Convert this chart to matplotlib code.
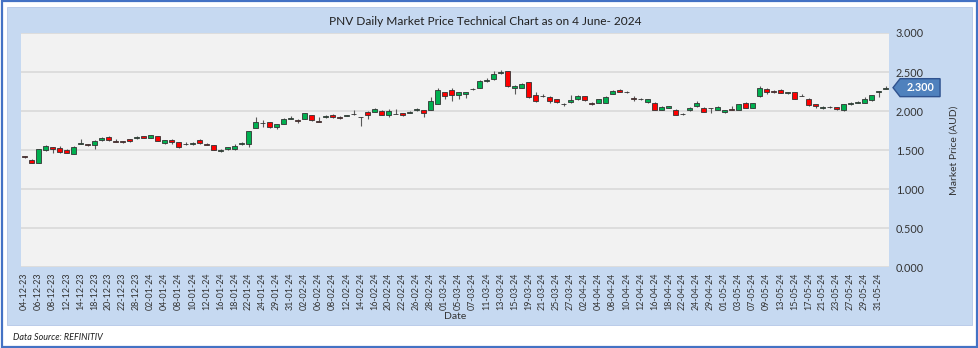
import matplotlib
matplotlib.use("Agg")
import matplotlib.pyplot as plt
from matplotlib.patches import Rectangle, Polygon
from matplotlib import transforms

# trading days (dd-mm-yy)
dates = [
    "04-12-23", "05-12-23", "06-12-23", "07-12-23", "08-12-23", "11-12-23", "12-12-23", "13-12-23",
    "14-12-23", "15-12-23", "18-12-23", "19-12-23", "20-12-23", "21-12-23", "22-12-23", "27-12-23",
    "28-12-23", "29-12-23", "02-01-24", "03-01-24", "04-01-24", "05-01-24", "08-01-24", "09-01-24",
    "10-01-24", "11-01-24", "12-01-24", "15-01-24", "16-01-24", "17-01-24", "18-01-24", "19-01-24",
    "22-01-24", "23-01-24", "24-01-24", "25-01-24", "29-01-24", "30-01-24", "31-01-24", "01-02-24",
    "02-02-24", "05-02-24", "06-02-24", "07-02-24", "08-02-24", "09-02-24", "12-02-24", "13-02-24",
    "14-02-24", "15-02-24", "16-02-24", "19-02-24", "20-02-24", "21-02-24", "22-02-24", "23-02-24",
    "26-02-24", "27-02-24", "28-02-24", "29-02-24", "01-03-24", "04-03-24", "05-03-24", "06-03-24",
    "07-03-24", "08-03-24", "11-03-24", "12-03-24", "13-03-24", "14-03-24", "15-03-24", "18-03-24",
    "19-03-24", "20-03-24", "21-03-24", "22-03-24", "25-03-24", "26-03-24", "27-03-24", "28-03-24",
    "02-04-24", "03-04-24", "04-04-24", "05-04-24", "08-04-24", "09-04-24", "10-04-24", "11-04-24",
    "12-04-24", "15-04-24", "16-04-24", "17-04-24", "18-04-24", "19-04-24", "22-04-24", "23-04-24",
    "24-04-24", "26-04-24", "29-04-24", "30-04-24", "01-05-24", "02-05-24", "03-05-24", "06-05-24",
    "07-05-24", "08-05-24", "09-05-24", "10-05-24", "13-05-24", "14-05-24", "15-05-24", "16-05-24",
    "17-05-24", "20-05-24", "21-05-24", "22-05-24", "23-05-24", "24-05-24", "27-05-24", "28-05-24",
    "29-05-24", "30-05-24", "31-05-24", "03-06-24",
]

open_ = [
    1.420, 1.380, 1.340, 1.500, 1.535, 1.530, 1.500, 1.455, 1.580, 1.580, 1.560, 1.630, 1.670, 1.615,
    1.615, 1.640, 1.650, 1.675, 1.655, 1.680, 1.595, 1.635, 1.605, 1.575, 1.575, 1.625, 1.575, 1.560,
    1.490, 1.510, 1.510, 1.575, 1.585, 1.785, 1.845, 1.860, 1.790, 1.835, 1.905, 1.880, 1.900, 1.945,
    1.870, 1.920, 1.945, 1.925, 1.940, 1.960, 1.925, 1.990, 1.990, 2.000, 1.955, 1.965, 1.970, 1.980,
    2.010, 2.010, 2.020, 2.090, 2.245, 2.270, 2.210, 2.220, 2.280, 2.295, 2.390, 2.410, 2.490, 2.510,
    2.290, 2.300, 2.370, 2.210, 2.190, 2.180, 2.150, 2.097, 2.115, 2.150, 2.190, 2.110, 2.110, 2.110,
    2.220, 2.265, 2.250, 2.165, 2.150, 2.120, 2.110, 2.020, 2.045, 2.020, 1.965, 2.010, 2.060, 2.045,
    2.040, 2.020, 1.985, 2.030, 2.020, 2.105, 2.045, 2.190, 2.280, 2.260, 2.265, 2.230, 2.240, 2.195,
    2.160, 2.090, 2.045, 2.050, 2.050, 2.010, 2.085, 2.110, 2.110, 2.140, 2.250, 2.285,
]
high = [
    1.430, 1.390, 1.520, 1.570, 1.545, 1.550, 1.510, 1.550, 1.640, 1.585, 1.630, 1.670, 1.680, 1.640,
    1.620, 1.645, 1.680, 1.685, 1.700, 1.685, 1.630, 1.645, 1.610, 1.610, 1.600, 1.640, 1.590, 1.565,
    1.510, 1.545, 1.580, 1.600, 1.745, 1.920, 1.885, 1.865, 1.840, 1.910, 1.940, 1.900, 1.980, 1.955,
    1.930, 1.945, 1.960, 1.940, 1.955, 2.020, 1.930, 2.000, 2.040, 2.010, 2.025, 2.025, 1.975, 1.995,
    2.045, 2.015, 2.175, 2.290, 2.250, 2.290, 2.245, 2.250, 2.290, 2.400, 2.420, 2.510, 2.520, 2.515,
    2.330, 2.360, 2.375, 2.240, 2.225, 2.190, 2.160, 2.100, 2.210, 2.200, 2.195, 2.115, 2.160, 2.190,
    2.265, 2.280, 2.255, 2.190, 2.165, 2.155, 2.115, 2.060, 2.070, 2.030, 1.975, 2.050, 2.125, 2.050,
    2.045, 2.060, 2.020, 2.060, 2.095, 2.120, 2.110, 2.320, 2.290, 2.275, 2.280, 2.245, 2.245, 2.225,
    2.165, 2.095, 2.060, 2.060, 2.055, 2.090, 2.115, 2.135, 2.175, 2.205, 2.255, 2.315,
]
low = [
    1.400, 1.330, 1.340, 1.490, 1.460, 1.460, 1.460, 1.450, 1.575, 1.550, 1.520, 1.620, 1.620, 1.605,
    1.590, 1.600, 1.645, 1.650, 1.650, 1.615, 1.575, 1.575, 1.530, 1.570, 1.570, 1.585, 1.570, 1.500,
    1.480, 1.505, 1.505, 1.570, 1.545, 1.780, 1.800, 1.780, 1.770, 1.830, 1.900, 1.850, 1.895, 1.875,
    1.860, 1.915, 1.910, 1.900, 1.935, 1.955, 1.810, 1.900, 1.985, 1.950, 1.920, 1.960, 1.940, 1.975,
    2.005, 1.925, 2.015, 2.085, 2.150, 2.135, 2.160, 2.170, 2.275, 2.290, 2.370, 2.400, 2.470, 2.310,
    2.225, 2.295, 2.170, 2.120, 2.175, 2.110, 2.100, 2.070, 2.110, 2.145, 2.135, 2.080, 2.105, 2.105,
    2.215, 2.240, 2.235, 2.130, 2.140, 2.110, 2.010, 2.010, 2.040, 1.950, 1.945, 2.005, 2.055, 1.985,
    1.970, 2.015, 1.980, 2.010, 2.015, 2.040, 2.040, 2.185, 2.220, 2.230, 2.230, 2.225, 2.150, 2.190,
    2.070, 2.040, 2.030, 2.040, 2.020, 2.005, 2.080, 2.100, 2.105, 2.135, 2.180, 2.280,
]
close = [
    1.410, 1.340, 1.510, 1.550, 1.510, 1.480, 1.465, 1.545, 1.590, 1.560, 1.620, 1.655, 1.625, 1.610,
    1.600, 1.615, 1.670, 1.655, 1.690, 1.620, 1.625, 1.600, 1.535, 1.580, 1.595, 1.590, 1.570, 1.505,
    1.500, 1.540, 1.550, 1.590, 1.740, 1.860, 1.850, 1.790, 1.835, 1.905, 1.910, 1.875, 1.975, 1.880,
    1.865, 1.935, 1.920, 1.910, 1.945, 1.962, 1.920, 1.955, 2.025, 1.955, 1.995, 1.967, 1.950, 1.990,
    2.025, 1.980, 2.130, 2.275, 2.195, 2.205, 2.240, 2.245, 2.285, 2.390, 2.395, 2.480, 2.495, 2.315,
    2.325, 2.350, 2.180, 2.130, 2.195, 2.125, 2.115, 2.093, 2.140, 2.190, 2.140, 2.090, 2.150, 2.185,
    2.255, 2.245, 2.245, 2.160, 2.152, 2.150, 2.015, 2.055, 2.065, 1.950, 1.963, 2.045, 2.100, 1.990,
    2.038, 2.050, 2.015, 2.015, 2.090, 2.045, 2.105, 2.290, 2.250, 2.245, 2.235, 2.240, 2.155, 2.193,
    2.075, 2.065, 2.047, 2.052, 2.030, 2.085, 2.110, 2.113, 2.150, 2.200, 2.250, 2.300,
]

last_price = 2.300

fig = plt.figure(figsize=(9.79, 3.48), dpi=100)
plt.rcParams["font.family"] = ["Lato", "DejaVu Sans"]

# frame and light blue panel
fig.patches.append(Rectangle((0.002, 0.003), 0.996, 0.994, transform=fig.transFigure,
                             facecolor="white", edgecolor="#4472C4", linewidth=1.6, zorder=-3))
fig.patches.append(Rectangle((0.00715, 0.066), 0.9857, 0.914, transform=fig.transFigure,
                             facecolor="#C6D9F1", edgecolor="#B4C7E7", linewidth=0.6, zorder=-2))

ax = fig.add_axes([0.0215, 0.2319, 0.8866, 0.6733])
ax.set_facecolor("#F2F2F2")

x = list(range(len(dates)))
up_color = "#00B050"
down_color = "#FF0000"

bottoms = [min(o, c) for o, c in zip(open_, close)]
heights = [max(abs(c - o), 0.003) for o, c in zip(open_, close)]
colors = [up_color if c >= o else down_color for o, c in zip(open_, close)]

ax.vlines(x, low, high, color="#595959", linewidth=0.8, zorder=2)
ax.bar(x, heights, bottom=bottoms, width=0.6, color=colors,
       edgecolor="#333333", linewidth=0.6, zorder=3)

ax.set_xlim(-0.5, len(dates) - 0.5)
ax.set_ylim(0, 3)
yticks = [0, 0.5, 1.0, 1.5, 2.0, 2.5, 3.0]
ax.set_yticks(yticks)
ax.set_yticklabels([f"{v:.3f}" for v in yticks])
ax.yaxis.tick_right()
ax.tick_params(axis="y", length=0, pad=5, labelsize=7.8, labelcolor="#333333")
ax.grid(axis="y", color="#D9D9D9", linewidth=1.2)
ax.set_axisbelow(True)

ax.set_xticks(x[::2])
ax.set_xticklabels(dates[::2], rotation=90, fontsize=6.4, color="#333333")
ax.tick_params(axis="x", length=0, pad=4)

for s in ax.spines.values():
    s.set_visible(False)

ax.set_xlabel("Date", fontsize=7.5, color="#333333", labelpad=1)
ax.yaxis.set_label_position("right")
ax.set_ylabel("Market Price (AUD)", fontsize=7.5, color="#333333", labelpad=18)

fig.text(0.496, 0.937, "PNV Daily Market Price Technical Chart as on 4 June- 2024",
         ha="center", va="center", fontsize=8.6, color="#1F1F1F")
fig.text(0.013, 0.03, "Data Source: REFINITIV", ha="left", va="center",
         fontsize=6.5, style="italic", color="#1F1F1F")

# last price tag
trans = transforms.blended_transform_factory(ax.transAxes, ax.transData)
tag = Polygon([(1.0046, last_price), (1.0127, last_price + 0.115), (1.0588, last_price + 0.115),
               (1.0588, last_price - 0.115), (1.0127, last_price - 0.115)],
              closed=True, transform=trans, clip_on=False,
              facecolor="#4F81BD", edgecolor="#2F528F", linewidth=1.0, zorder=5)
ax.add_patch(tag)
ax.text(1.0357, last_price, f"{last_price:.3f}", transform=trans, ha="center", va="center",
        fontsize=7.8, color="white", fontweight="bold", zorder=6)

fig.savefig("out.png", dpi=100)
